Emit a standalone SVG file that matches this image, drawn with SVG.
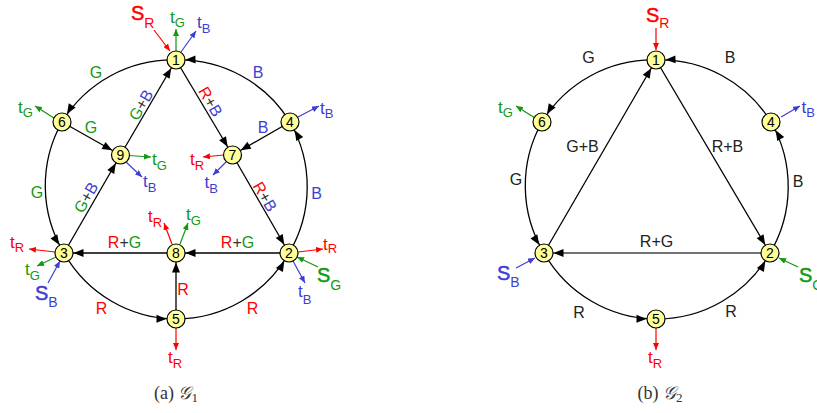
<svg xmlns="http://www.w3.org/2000/svg" width="817" height="413" viewBox="0 0 817 413">
<style>
.e{fill:none;stroke:#000;stroke-width:1.3;marker-end:url(#ah)}
.n circle{fill:#ffff99;stroke:#000;stroke-width:1.2}
.n text{font-family:"Liberation Sans",Arial,sans-serif;font-size:14px;text-anchor:middle;fill:#000}
.l{font-family:"Liberation Sans",Arial,sans-serif;font-size:16px;text-anchor:middle;fill:#222}
.t{font-family:"Liberation Sans",Arial,sans-serif;font-size:17px}
.s{font-family:"Liberation Sans",Arial,sans-serif;font-size:20px;stroke-width:0.5}
.sub{font-size:13px}
.subS{font-size:14px;stroke-width:0}
.r{fill:#ff0000}.g{fill:#119911}.b{fill:#3e3ed2}.k{fill:#333}
.s.r{stroke:#ff0000}.s.g{stroke:#119911}.s.b{stroke:#3e3ed2}
.ar{stroke:#ff0000;stroke-width:1.2;marker-end:url(#mr)}
.ag{stroke:#119911;stroke-width:1.2;marker-end:url(#mg)}
.ab{stroke:#3e3ed2;stroke-width:1.2;marker-end:url(#mb)}
.cap{font-family:"Liberation Serif","Times New Roman",serif;font-size:18px;fill:#333;text-anchor:middle}
</style>
<defs>
<marker id="ah" viewBox="0 0 10 8" markerWidth="10" markerHeight="8" refX="19.5" refY="4" orient="auto" markerUnits="userSpaceOnUse" overflow="visible"><path d="M0,0 L10,4 L0,8 z" fill="#000"/></marker>
<marker id="mr" viewBox="0 0 7 6" markerWidth="7" markerHeight="6" refX="7" refY="3" orient="auto" markerUnits="userSpaceOnUse"><path d="M0,0 L7,3 L0,6 z" fill="#ff0000"/></marker>
<marker id="mg" viewBox="0 0 7 6" markerWidth="7" markerHeight="6" refX="7" refY="3" orient="auto" markerUnits="userSpaceOnUse"><path d="M0,0 L7,3 L0,6 z" fill="#119911"/></marker>
<marker id="mb" viewBox="0 0 7 6" markerWidth="7" markerHeight="6" refX="7" refY="3" orient="auto" markerUnits="userSpaceOnUse"><path d="M0,0 L7,3 L0,6 z" fill="#3e3ed2"/></marker>
</defs>
<rect width="817" height="413" fill="#fff"/>

<!-- ===== G1 ===== -->
<g id="g1-connectors">
<path class="e" d="M176,60 A130,130 0 0 0 62,122"/>
<path class="e" d="M290,122 A130,130 0 0 0 176,60"/>
<path class="e" d="M62,122 A130,130 0 0 0 64,253"/>
<path class="e" d="M289,253 A130,130 0 0 0 290,122"/>
<path class="e" d="M64,253 A130,130 0 0 0 176,319"/>
<path class="e" d="M176,319 A130,130 0 0 0 289,253"/>
<path class="e" d="M62,122 L120.5,155"/>
<path class="e" d="M120.5,155 L176,60"/>
<path class="e" d="M64,253 L120.5,155"/>
<path class="e" d="M176,60 L232.5,155"/>
<path class="e" d="M290,122 L232.5,155"/>
<path class="e" d="M232.5,155 L289,253"/>
<path class="e" d="M289,253 L176,253"/>
<path class="e" d="M176,253 L64,253"/>
<path class="e" d="M176,319 L176,253"/>
</g>
<g id="g1-edge-labels">
<text class="l g" x="96" y="78">G</text>
<text class="l b" x="258" y="78">B</text>
<text class="l g" x="91" y="133">G</text>
<text class="l b" x="263" y="133">B</text>
<text class="l g" x="37" y="198">G</text>
<text class="l b" x="316.5" y="199">B</text>
<text class="l r" x="101.5" y="314">R</text>
<text class="l r" x="252.5" y="314">R</text>
<text class="l r" x="183" y="295">R</text>
<text class="l" x="124.5" y="248"><tspan class="r">R</tspan><tspan class="k">+</tspan><tspan class="g">G</tspan></text>
<text class="l" x="237.5" y="248"><tspan class="r">R</tspan><tspan class="k">+</tspan><tspan class="g">G</tspan></text>
<text class="l" transform="translate(145.8,107.7) rotate(-60)"><tspan class="g">G</tspan><tspan class="k">+</tspan><tspan class="b">B</tspan></text>
<text class="l" transform="translate(90.8,200.2) rotate(-60)"><tspan class="g">G</tspan><tspan class="k">+</tspan><tspan class="b">B</tspan></text>
<text class="l" transform="translate(205.7,104.3) rotate(60)"><tspan class="r">R</tspan><tspan class="k">+</tspan><tspan class="b">B</tspan></text>
<text class="l" transform="translate(260.2,199.3) rotate(60)"><tspan class="r">R</tspan><tspan class="k">+</tspan><tspan class="b">B</tspan></text>
</g>
<g id="g1-terminals">
<line class="ar" x1="154" y1="30" x2="170" y2="51"/>
<line class="ag" x1="176" y1="51" x2="176" y2="29"/>
<line class="ab" x1="181" y1="52" x2="196" y2="31"/>
<line class="ag" x1="54" y1="118" x2="35" y2="106"/>
<line class="ab" x1="298" y1="117" x2="319" y2="106"/>
<line class="ag" x1="129" y1="155.5" x2="151" y2="157"/>
<line class="ab" x1="126" y1="162" x2="142" y2="177"/>
<line class="ar" x1="223.5" y1="155" x2="203" y2="157"/>
<line class="ab" x1="226" y1="162" x2="213" y2="175"/>
<line class="ar" x1="55" y1="252" x2="29" y2="249"/>
<line class="ag" x1="56" y1="257" x2="37" y2="266"/>
<line class="ab" x1="48" y1="283" x2="60" y2="261"/>
<line class="ar" x1="172" y1="244" x2="164" y2="223"/>
<line class="ag" x1="180" y1="244" x2="188" y2="223"/>
<line class="ar" x1="298" y1="252" x2="323" y2="249"/>
<line class="ag" x1="318" y1="267" x2="297" y2="257"/>
<line class="ab" x1="293" y1="261" x2="305" y2="283"/>
<line class="ar" x1="176" y1="328" x2="176" y2="350"/>
<text class="s r" x="131" y="20">S<tspan class="subS" dy="8">R</tspan></text>
<text class="t g" x="170" y="23">t<tspan class="sub" dy="4">G</tspan></text>
<text class="t b" x="197" y="28">t<tspan class="sub" dy="5">B</tspan></text>
<text class="t g" x="18" y="113">t<tspan class="sub" dy="4">G</tspan></text>
<text class="t b" x="320" y="114">t<tspan class="sub" dy="4">B</tspan></text>
<text class="t g" x="152" y="165">t<tspan class="sub" dy="5">G</tspan></text>
<text class="t b" x="143" y="187">t<tspan class="sub" dy="5">B</tspan></text>
<text class="t r" x="190" y="165">t<tspan class="sub" dy="5">R</tspan></text>
<text class="t b" x="204.5" y="188">t<tspan class="sub" dy="5">B</tspan></text>
<text class="t r" x="10" y="248">t<tspan class="sub" dy="4">R</tspan></text>
<text class="t g" x="25" y="275">t<tspan class="sub" dy="5">G</tspan></text>
<text class="s b" x="35" y="300">S<tspan class="subS" dy="7">B</tspan></text>
<text class="t r" x="148" y="222">t<tspan class="sub" dy="5">R</tspan></text>
<text class="t g" x="186" y="220">t<tspan class="sub" dy="5">G</tspan></text>
<text class="t r" x="323" y="250">t<tspan class="sub" dy="3">R</tspan></text>
<text class="s g" x="317" y="282">S<tspan class="subS" dy="8">G</tspan></text>
<text class="t b" x="298" y="297">t<tspan class="sub" dy="7">B</tspan></text>
<text class="t r" x="168" y="363">t<tspan class="sub" dy="5">R</tspan></text>
</g>
<g id="g1-n1" class="n"><circle cx="176" cy="60" r="9"/><text x="176" y="65">1</text></g>
<g id="g1-n2" class="n"><circle cx="289" cy="253" r="9"/><text x="289" y="258">2</text></g>
<g id="g1-n3" class="n"><circle cx="64" cy="253" r="9"/><text x="64" y="258">3</text></g>
<g id="g1-n4" class="n"><circle cx="290" cy="122" r="9"/><text x="290" y="127">4</text></g>
<g id="g1-n5" class="n"><circle cx="176" cy="319" r="9"/><text x="176" y="324">5</text></g>
<g id="g1-n6" class="n"><circle cx="62" cy="122" r="9"/><text x="62" y="127">6</text></g>
<g id="g1-n7" class="n"><circle cx="232.5" cy="155" r="9"/><text x="232.5" y="160">7</text></g>
<g id="g1-n8" class="n"><circle cx="176" cy="253" r="9"/><text x="176" y="258">8</text></g>
<g id="g1-n9" class="n"><circle cx="120.5" cy="155" r="9"/><text x="120.5" y="160">9</text></g>
<text class="cap" x="176" y="399">(a)  <tspan font-style="italic">𝒢</tspan><tspan font-size="13" dy="3">1</tspan></text>

<!-- ===== G2 ===== -->
<g id="g2-connectors">
<path class="e" d="M656,60 A130,130 0 0 0 542,122"/>
<path class="e" d="M771,122 A130,130 0 0 0 656,60"/>
<path class="e" d="M542,122 A130,130 0 0 0 544,253"/>
<path class="e" d="M770,253 A130,130 0 0 0 771,122"/>
<path class="e" d="M544,253 A130,130 0 0 0 656,319"/>
<path class="e" d="M656,319 A130,130 0 0 0 770,253"/>
<path class="e" d="M544,253 L656,60"/>
<path class="e" d="M656,60 L770,253"/>
<path class="e" style="stroke:#444;stroke-width:1.7" d="M770,253 L544,253"/>
</g>
<g id="g2-edge-labels">
<text class="l" x="588.5" y="63">G</text>
<text class="l" x="730" y="63">B</text>
<text class="l" x="516" y="185">G</text>
<text class="l" x="798" y="187">B</text>
<text class="l" x="579" y="318">R</text>
<text class="l" x="731" y="317">R</text>
<text class="l" x="582.5" y="152">G+B</text>
<text class="l" x="727.5" y="152">R+B</text>
<text class="l" x="656.5" y="247">R+G</text>
</g>
<g id="g2-terminals">
<line class="ar" x1="656" y1="28" x2="656" y2="50"/>
<line class="ag" x1="535" y1="118" x2="516" y2="106"/>
<line class="ab" x1="781" y1="117" x2="800" y2="106"/>
<line class="ab" x1="516" y1="268" x2="535" y2="258"/>
<line class="ag" x1="798" y1="267" x2="779" y2="258"/>
<line class="ar" x1="656" y1="328" x2="656" y2="350"/>
<text class="s r" x="646" y="22">S<tspan class="subS" dy="6">R</tspan></text>
<text class="t g" x="498" y="113">t<tspan class="sub" dy="4">G</tspan></text>
<text class="t b" x="801.5" y="113">t<tspan class="sub" dy="4">B</tspan></text>
<text class="s b" x="497" y="280">S<tspan class="subS" dy="7">B</tspan></text>
<text class="s g" x="799" y="282">S<tspan class="subS" dy="8">G</tspan></text>
<text class="t r" x="648" y="363">t<tspan class="sub" dy="5">R</tspan></text>
</g>
<g id="g2-n1" class="n"><circle cx="656" cy="60" r="9"/><text x="656" y="65">1</text></g>
<g id="g2-n2" class="n"><circle cx="770" cy="253" r="9"/><text x="770" y="258">2</text></g>
<g id="g2-n3" class="n"><circle cx="544" cy="253" r="9"/><text x="544" y="258">3</text></g>
<g id="g2-n4" class="n"><circle cx="771" cy="122" r="9"/><text x="771" y="127">4</text></g>
<g id="g2-n5" class="n"><circle cx="656" cy="319" r="9"/><text x="656" y="324">5</text></g>
<g id="g2-n6" class="n"><circle cx="542" cy="122" r="9"/><text x="542" y="127">6</text></g>
<text class="cap" x="660" y="399">(b)  <tspan font-style="italic">𝒢</tspan><tspan font-size="13" dy="3">2</tspan></text>
</svg>
